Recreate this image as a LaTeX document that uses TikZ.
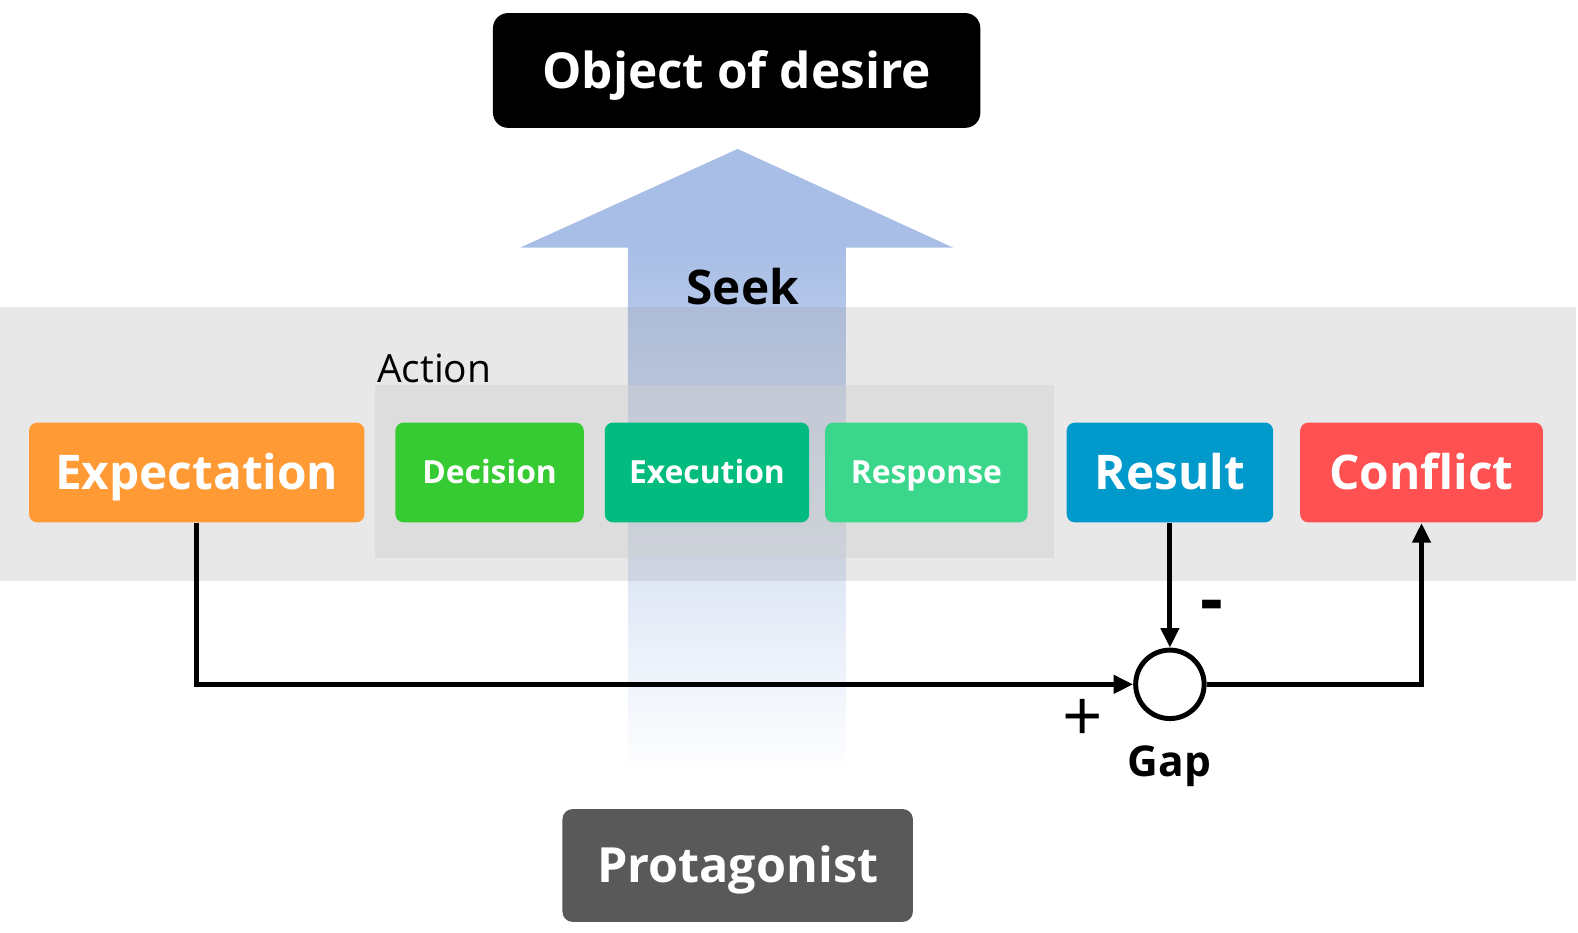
\documentclass[tikz,border=0pt]{standalone}
\usepackage{fontspec}
\setmainfont{Open Sans}
\usetikzlibrary{arrows.meta,shapes.geometric}
\definecolor{arrowblue}{RGB}{169,190,230}
\definecolor{cexp}{HTML}{FF9A35}
\definecolor{cdec}{HTML}{36CB33}
\definecolor{cexe}{HTML}{02BB7E}
\definecolor{cres}{HTML}{39D68B}
\definecolor{cresult}{HTML}{0099CC}
\definecolor{cconf}{HTML}{FF5151}
\definecolor{cprot}{HTML}{595959}
\definecolor{bandgray}{RGB}{160,160,160}
\definecolor{actgray}{RGB}{208,208,208}
\tikzset{
  box/.style={rounded corners=0.08cm, inner sep=0pt, minimum height=0.99cm, text=white, text depth=0pt},
  bigtxt/.style={font=\bfseries\fontsize{13.5}{16}\selectfont, text height=9.6pt},
  smalltxt/.style={font=\bfseries\fontsize{9}{11}\selectfont, text height=6.4pt},
  conn/.style={line width=1.4pt, -{Triangle[length=5.5pt,width=5pt]}},
}
\begin{document}
\begin{tikzpicture}[x=0.01cm,y=-0.01cm]
\useasboundingbox (0,0) rectangle (1568,927);
% big arrow
\fill[arrowblue] (517,246) -- (733,148) -- (947,246) -- cycle;
\shade[top color=arrowblue, bottom color=white] (624,245) rectangle (840,770);
% band overlay
\fill[bandgray, opacity=0.242] (0,305) rectangle (1566,577);
\node[text height=9.6pt, text depth=0pt, inner sep=0pt, font=\bfseries\fontsize{13.5}{16}\selectfont] (seek) at (738,286) {Seek};
% action region
\fill[actgray, opacity=0.45] (373,383) rectangle (1047,554);
\node[anchor=west, inner sep=0pt, text height=7.85pt, text depth=0pt, font=\fontsize{11}{13}\selectfont] (actlbl) at (374,366) {Action};
% top/bottom nodes
\node[rounded corners=0.15cm, fill=black, text=white, minimum width=4.84cm, minimum height=1.14cm, inner sep=0pt, text height=10pt, text depth=0pt, font=\bfseries\fontsize{14}{16}\selectfont] (obj) at (732,70) {Object of desire};
\node[rounded corners=0.1cm, fill=cprot, text=white, minimum width=3.48cm, minimum height=1.12cm, inner sep=0pt, text height=9.8pt, text depth=0pt, font=\bfseries\fontsize{13.7}{16}\selectfont] (prot) at (733,860) {Protagonist};
% row boxes
\node[box, bigtxt, fill=cexp, minimum width=3.33cm] (exp) at (195.5,469.5) {Expectation};
\node[box, smalltxt, fill=cdec, minimum width=1.87cm] (dec) at (486.5,469.5) {Decision};
\node[box, smalltxt, fill=cexe, minimum width=2.03cm] (exe) at (702.5,469.5) {Execution};
\node[box, smalltxt, fill=cres, minimum width=2.01cm] (resp) at (920.5,469.5) {Response};
\node[box, bigtxt, fill=cresult, minimum width=2.05cm] (res) at (1162.5,469.5) {Result};
\node[box, bigtxt, fill=cconf, minimum width=2.41cm] (conf) at (1412.5,469.5) {Conflict};
% gap
\node[circle, draw, line width=1.4pt, minimum size=0.68cm, inner sep=0pt, fill=white] (gap) at (1162.5,680) {};
\node[text height=8.6pt, text depth=0pt, inner sep=0pt, font=\bfseries\fontsize{12}{14}\selectfont] (gaplbl) at (1162,756) {Gap};
\node[font=\fontsize{20}{22}\selectfont] (plus) at (1076,716) {+};
\node[anchor=base, inner sep=0pt, font=\bfseries\fontsize{20}{22}\selectfont] (minus) at (1204,620) {-};
% connectors
\draw[conn] (exp.south) |- (gap.west);
\draw[conn] (res.south) -- (gap.north);
\draw[conn] (gap.east) -| (conf.south);
\end{tikzpicture}
\end{document}
